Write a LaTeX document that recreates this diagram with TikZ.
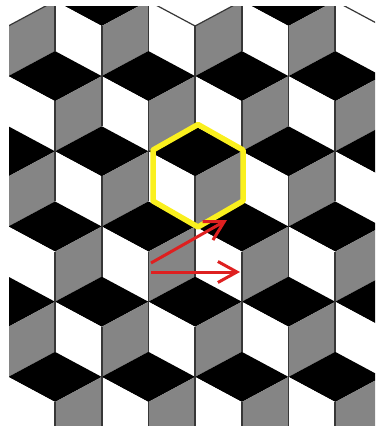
\documentclass[tikz,border=0pt]{standalone}
\usetikzlibrary{arrows.meta}
\definecolor{facegray}{RGB}{133,133,133}
\definecolor{edgegray}{RGB}{55,55,55}
\definecolor{hexyellow}{RGB}{250,240,30}
\definecolor{arrowred}{RGB}{222,32,32}
\begin{document}
\begin{tikzpicture}[x=1pt, y=-1pt]
        \tikzstyle{face} = [draw=edgegray, line width=1.2pt]
        \tikzstyle{edge} = [draw=edgegray, line width=1.8pt]
        \tikzstyle{hexring} = [draw=hexyellow, line width=5.5pt, line join=round]
        \tikzstyle{vec} = [draw=arrowred, line width=3pt, -{Straight Barb[length=19pt, width=21pt]}]

        \useasboundingbox (0,0) rectangle (375,428);
        \fill[white] (0,0) rectangle (375,428);

        \begin{scope}
            \clip (9,7) rectangle (375,425);
            \foreach \r in {0,...,5} {
                \foreach \k in {-1,...,4} {
                    \pgfmathsetmacro{\cx}{8.3+46.7*mod(\r,2)+93.4*\k}
                    \pgfmathsetmacro{\cy}{26+75.2*\r}
                    \def\topcol{black}
                    \ifnum\r=0 \ifodd\k\else\def\topcol{white}\fi\fi
                    \fill[\topcol] (\cx,\cy) -- ++(-46.7,-25.07) -- ++(46.7,-25.07) -- ++(46.7,25.07) -- cycle;
                    \fill[white] (\cx,\cy) -- ++(-46.7,-25.07) -- ++(0,50.14) -- ++(46.7,25.07) -- cycle;
                    \fill[facegray] (\cx,\cy) -- ++(46.7,-25.07) -- ++(0,50.14) -- ++(-46.7,25.07) -- cycle;
                }
            }
            \foreach \r in {0,...,5} {
                \foreach \k in {-1,...,4} {
                    \pgfmathsetmacro{\cx}{8.3+46.7*mod(\r,2)+93.4*\k}
                    \pgfmathsetmacro{\cy}{26+75.2*\r}
                    \draw[edge] (\cx,\cy) -- ++(0,50.14);
                    \draw[edge] (\cx-46.7,\cy-25.07) -- ++(0,50.14);
                    \draw[edge] (\cx+46.7,\cy-25.07) -- ++(0,50.14);
                }
            }
            \foreach \k in {0,2,4} {
                \pgfmathsetmacro{\cx}{8.3+93.4*\k}
                \draw[face] (\cx-46.7,1) -- (\cx,26) -- (\cx+46.7,1);
            }
        \end{scope}

        \draw[hexring] (198,124.5) -- (243,150) -- (243,201) -- (198,227) -- (153,201) -- (153,150) -- cycle;

        \coordinate (tailup) at (151,263);
        \coordinate (headup) at (227,220);
        \coordinate (tailright) at (151,272);
        \coordinate (headright) at (240,272);

        \path[vec] (tailup) -- (headup);
        \path[vec] (tailright) -- (headright);
\end{tikzpicture}
\end{document}
